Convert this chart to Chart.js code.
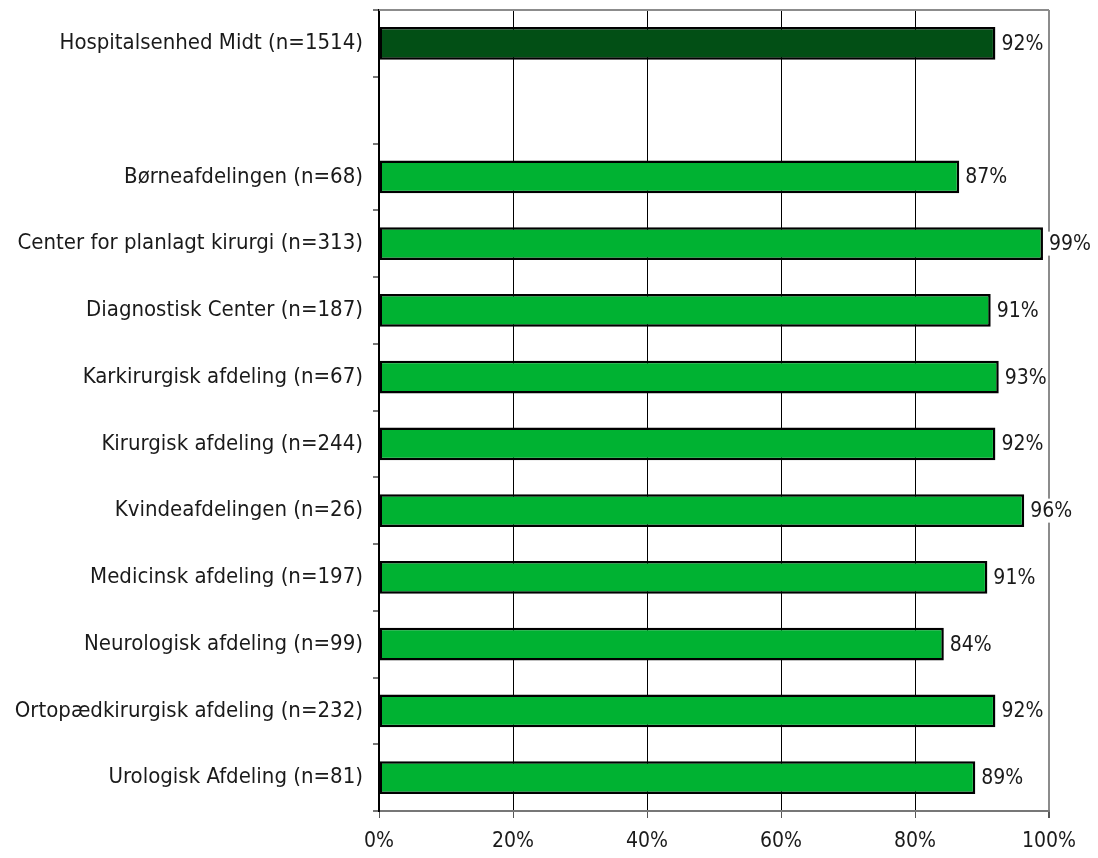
<!DOCTYPE html>
<html lang="da">
<head>
    <meta charset="utf-8">
    <title>Hospitalsenhed Midt</title>
    <style>
        body{margin:0;background:#fff;}
        #wrap{width:1098px;height:858px;}
    </style>
    <script src="https://cdn.jsdelivr.net/npm/chart.js@4/dist/chart.umd.min.js"></script>
</head>
<body>
    <div id="wrap"><canvas id="barChart" width="1098" height="858"></canvas></div>
    <script>
        const categories = [
            'Hospitalsenhed Midt (n=1514)',
            '',
            'Børneafdelingen (n=68)',
            'Center for planlagt kirurgi (n=313)',
            'Diagnostisk Center (n=187)',
            'Karkirurgisk afdeling (n=67)',
            'Kirurgisk afdeling (n=244)',
            'Kvindeafdelingen (n=26)',
            'Medicinsk afdeling (n=197)',
            'Neurologisk afdeling (n=99)',
            'Ortopædkirurgisk afdeling (n=232)',
            'Urologisk Afdeling (n=81)'
        ];
        const values = [92.0, null, 86.6, 99.1, 91.3, 92.5, 92.0, 96.3, 90.8, 84.3, 92.0, 89.0];
        const xTicks = [0, 20, 40, 60, 80, 100];

        const FONT = '"DejaVu Sans Condensed", "DejaVu Sans", sans-serif';

        // value labels next to each bar, on a white box
        const valueLabels = {
            id: 'valueLabels',
            afterDatasetsDraw(chart) {
                const ctx = chart.ctx;
                const meta = chart.getDatasetMeta(0);
                ctx.save();
                ctx.font = '21px ' + FONT;
                ctx.textBaseline = 'middle';
                meta.data.forEach((bar, i) => {
                    if (values[i] == null) return;
                    const txt = Math.round(values[i]) + '%';
                    const w = ctx.measureText(txt).width;
                    const x = bar.x + 6;
                    ctx.fillStyle = '#fff';
                    ctx.fillRect(x - 1, bar.y - 12, w + 2, 24);
                    ctx.fillStyle = '#1a1a1a';
                    ctx.fillText(txt, x, bar.y + 1);
                });
                ctx.restore();
            }
        };

        // grey frame line on top of the plot area
        const topFrame = {
            id: 'topFrame',
            beforeDatasetsDraw(chart) {
                const a = chart.chartArea, ctx = chart.ctx;
                ctx.save();
                ctx.strokeStyle = '#8c8c8c';
                ctx.lineWidth = 2;
                ctx.beginPath();
                ctx.moveTo(a.left, a.top);
                ctx.lineTo(a.right, a.top);
                ctx.stroke();
                ctx.restore();
            }
        };

        new Chart(document.getElementById('barChart'), {
            type: 'bar',
            data: {
                labels: categories,
                datasets: [{
                    data: values,
                    backgroundColor: values.map((v, i) => i === 0 ? '#024f15' : '#00b232'),
                    borderColor: '#000',
                    borderWidth: 2.5,
                    borderSkipped: false,
                    barPercentage: 0.49,
                    categoryPercentage: 1
                }]
            },
            options: {
                indexAxis: 'y',
                responsive: false,
                animation: false,
                layout: {padding: {top: 10, right: 49, left: 0, bottom: 0}},
                plugins: {legend: {display: false}, tooltip: {enabled: false}},
                scales: {
                    x: {
                        min: 0,
                        max: 100,
                        afterBuildTicks: s => { s.ticks = xTicks.map(v => ({value: v})); },
                        afterFit: s => { s.height = 47; s.paddingLeft = 0; s.paddingRight = 0; },
                        ticks: {
                            callback: v => v + '%',
                            color: '#1a1a1a',
                            font: {family: FONT, size: 21},
                            padding: 11,
                            maxRotation: 0
                        },
                        grid: {
                            color: c => (c.tick && c.tick.value === 100) ? '#8c8c8c' : '#000',
                            lineWidth: c => (c.tick && c.tick.value === 100) ? 2 : 1,
                            tickColor: '#555',
                            tickLength: 7
                        },
                        border: {color: '#777', width: 2}
                    },
                    y: {
                        afterFit: s => { s.width = 379; s.paddingTop = 0; s.paddingBottom = 0; },
                        ticks: {
                            color: '#1a1a1a',
                            font: {family: FONT, size: 22},
                            padding: 10
                        },
                        grid: {
                            offset: true,
                            drawOnChartArea: false,
                            tickColor: '#777',
                            tickLength: 6,
                            lineWidth: 2
                        },
                        border: {color: '#000', width: 2}
                    }
                }
            },
            plugins: [topFrame, valueLabels]
        });
    </script>
</body>
</html>
